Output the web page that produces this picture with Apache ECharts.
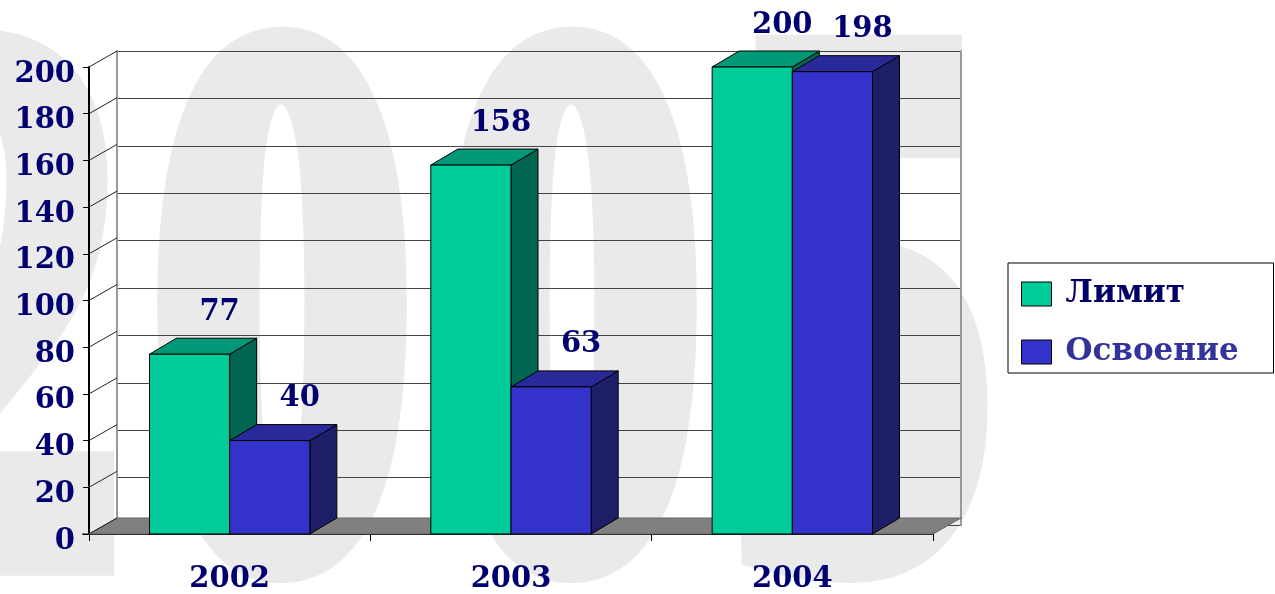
<!DOCTYPE html>
<html><head><meta charset="utf-8">
<script src="https://cdn.jsdelivr.net/npm/echarts@6/dist/echarts.min.js"></script>
<style>html,body{margin:0;padding:0;background:#fff}#c{width:1275px;height:594px}</style>
</head><body><div id="c"></div>
<script>
// ---- data ----
const categories = ['2002', '2003', '2004'];
const limitValues = [77, 158, 200];
const usedValues = [40, 63, 198];
const seriesNames = ['Лимит', 'Освоение'];
const yTicks = [0, 20, 40, 60, 80, 100, 120, 140, 160, 180, 200];
const watermarkText = '2005';

// ---- styling ----
const DX = 27, DY = -16;          // depth offset of the 3D look
const BAR_FRAC = 0.285;           // bar width as fraction of the category band
const LABEL_FONT = 'bold 29px "DejaVu Serif"';
const NAVY = '#000070';
const palettes = [
  { front: '#00CC99', top: '#009977', side: '#006650' },
  { front: '#3333CC', top: '#292999', side: '#1E1E66' }
];

const chart = echarts.init(document.getElementById('c'), null, { renderer: 'canvas' });

function barRenderer(seriesIdx) {
  const pal = palettes[seriesIdx];
  return function (params, api) {
    const cat = api.value(0), val = api.value(1);
    const top = api.coord([cat, val]);
    const base = api.coord([cat, 0]);
    const band = api.size([1, 0])[0];
    const w = band * BAR_FRAC;
    const x0 = top[0] - w + seriesIdx * w;
    const y1 = top[1], y0 = base[1];
    return {
      type: 'group',
      children: [
        { type: 'polygon', shape: { points: [[x0 + w, y1], [x0 + w + DX, y1 + DY], [x0 + w + DX, y0 + DY], [x0 + w, y0]] },
          style: { fill: pal.side, stroke: '#000', lineWidth: 1 } },
        { type: 'polygon', shape: { points: [[x0, y1], [x0 + w, y1], [x0 + w + DX, y1 + DY], [x0 + DX, y1 + DY]] },
          style: { fill: pal.top, stroke: '#000', lineWidth: 1 } },
        { type: 'rect', shape: { x: x0, y: y1, width: w, height: y0 - y1 },
          style: { fill: pal.front, stroke: '#000', lineWidth: 1 } },
        { type: 'text', x: x0 + DX + w / 2 + 3, y: y1 + DY - 26,
          style: { text: String(val), font: LABEL_FONT, fill: NAVY, align: 'center', verticalAlign: 'middle' } }
      ]
    };
  };
}

function wallRenderer(params, api) {
  const v = api.value(1);
  const y = api.coord([0, v])[1];
  const cs = params.coordSys;
  const children = [];
  if (v === 0) {
    children.push({ type: 'polygon', shape: { points: [[cs.x, y], [cs.x + cs.width, y], [cs.x + cs.width + DX + 1, y + DY], [cs.x + DX + 1, y + DY]] },
      style: { fill: '#808080', stroke: '#666', lineWidth: 1 } });
    children.push({ type: 'line', shape: { x1: cs.x - 7, y1: y, x2: cs.x, y2: y }, style: { stroke: '#000', lineWidth: 1 } });
  }
  children.push({ type: 'line', shape: { x1: cs.x, y1: y, x2: cs.x + DX + 1, y2: y + DY }, style: { stroke: '#222', lineWidth: 1 } });
  return { type: 'group', children };
}

// background watermark: one text element per character
const WM_X0 = -8, WM_STEP = 290;
const watermark = watermarkText.split('').map((ch, i) => ({
  type: 'text', z: -100, x: WM_X0 + i * WM_STEP, y: 358, scaleX: 0.685, silent: true,
  style: { x: 0, y: 0, text: ch, font: 'bold 765px "Liberation Serif"', fill: '#EAEAEA', stroke: '#EAEAEA', lineWidth: 40, lineJoin: 'round', align: 'center', verticalAlign: 'middle' }
}));

const option = {
  animation: false,
  backgroundColor: '#fff',
  color: [palettes[0].front, palettes[1].front],
  graphic: watermark,
  grid: [
    { left: 89, top: 67, width: 844, height: 474 },
    { left: 89 + DX + 1, top: 67 + DY, width: 844, height: 474 }
  ],
  xAxis: [
    { type: 'category', gridIndex: 0, data: categories,
      axisLine: { show: true, lineStyle: { color: '#000', width: 1 } },
      axisTick: { show: true, length: 7, lineStyle: { color: '#000' } },
      axisLabel: { color: NAVY, fontFamily: 'DejaVu Serif', fontWeight: 'bold', fontSize: 29, margin: 31 } },
    { type: 'category', gridIndex: 1, data: categories, show: false }
  ],
  yAxis: [
    { type: 'value', gridIndex: 0, min: 0, max: 200, interval: 20,
      axisLine: { show: true, lineStyle: { color: '#000', width: 2 } },
      axisTick: { show: true, length: 6, lineStyle: { color: '#000', width: 1 } },
      splitLine: { show: false },
      axisLabel: { color: NAVY, fontFamily: 'DejaVu Serif', fontWeight: 'bold', fontSize: 29, margin: 14, verticalAlign: 'top', lineHeight: 14 } },
    { type: 'value', gridIndex: 1, min: 0, max: 200, interval: 20,
      axisLine: { show: true, lineStyle: { color: '#999', width: 2 } },
      axisTick: { show: false }, axisLabel: { show: false },
      splitLine: { show: true, lineStyle: { color: '#444', width: 1 } } },
    { type: 'value', gridIndex: 1, position: 'right', min: 0, max: 200, interval: 20,
      axisLine: { show: true, lineStyle: { color: '#999', width: 2 } },
      axisTick: { show: false }, axisLabel: { show: false }, splitLine: { show: false } }
  ],
  legend: {
    orient: 'vertical', left: 1008, top: 263,
    padding: [15, 10, 5, 13], itemGap: 26, itemWidth: 30, itemHeight: 24,
    borderColor: '#000', borderWidth: 1, backgroundColor: '#fff',
    icon: 'rect',
    itemStyle: { borderColor: '#000', borderWidth: 1 },
    textStyle: { fontFamily: 'DejaVu Serif', fontWeight: 'bold', fontSize: 31, lineHeight: 32, width: 198, padding: [0, 0, 0, 9] },
    data: [
      { name: seriesNames[0], textStyle: { color: '#000066' } },
      { name: seriesNames[1], textStyle: { color: '#333399' } }
    ]
  },
  series: [
    { type: 'custom', name: 'walls', xAxisIndex: 0, yAxisIndex: 0, z: 1, silent: true,
      renderItem: wallRenderer, data: yTicks.map(v => [0, v]) },
    { type: 'custom', name: seriesNames[0], xAxisIndex: 0, yAxisIndex: 0, z: 3,
      itemStyle: { color: palettes[0].front },
      renderItem: barRenderer(0), data: limitValues.map((v, i) => [i, v]) },
    { type: 'custom', name: seriesNames[1], xAxisIndex: 0, yAxisIndex: 0, z: 4,
      itemStyle: { color: palettes[1].front },
      renderItem: barRenderer(1), data: usedValues.map((v, i) => [i, v]) }
  ]
};
chart.setOption(option);
</script>
</body></html>
